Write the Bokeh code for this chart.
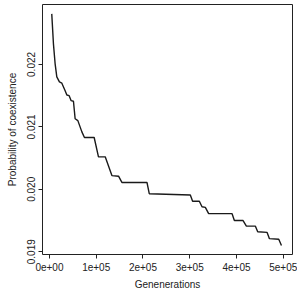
from bokeh.plotting import figure
from bokeh.models import Range1d, FixedTicker
from bokeh.embed import file_html
from bokeh.resources import INLINE

generations = [5000, 8600, 12200, 15800, 21400, 26600, 33600, 37300, 42200, 46500,
               51400, 55000, 60800, 69400, 74900, 95700, 104900, 119300, 133600, 147800,
               155000, 208600, 213500, 301300, 306200, 320600, 326300, 333400, 340500, 390600,
               395500, 414100, 421200, 440500, 445400, 465500, 470500, 490400, 496200]
probability = [0.02281, 0.02233, 0.02201, 0.02180, 0.02172, 0.02170, 0.02158, 0.02151, 0.02150, 0.02142,
               0.02141, 0.02113, 0.02110, 0.02092, 0.02083, 0.02083, 0.02052, 0.02052, 0.02022, 0.02021,
               0.02011, 0.02011, 0.01993, 0.01991, 0.01981, 0.01981, 0.01972, 0.01971, 0.01961, 0.01961,
               0.01950, 0.01950, 0.01941, 0.01941, 0.01932, 0.01931, 0.01921, 0.01920, 0.01910]

x_ticks = [0, 100000, 200000, 300000, 400000, 500000]
x_tick_labels = ["0e+00", "1e+05", "2e+05", "3e+05", "4e+05", "5e+05"]
y_ticks = [0.019, 0.020, 0.021, 0.022]
y_tick_labels = ["0.019", "0.020", "0.021", "0.022"]

FONT = "Liberation Sans"

p = figure(width=297, height=297, output_backend="svg", toolbar_location=None,
           x_range=Range1d(-14800, 519800), y_range=Range1d(0.018956, 0.02296),
           min_border_left=42, min_border_right=5, min_border_top=4, min_border_bottom=43)

p.line(generations, probability, line_color="#1a1a1a", line_width=1.4)

p.xgrid.visible = False
p.ygrid.visible = False
p.outline_line_color = "#222222"
p.outline_line_width = 1
p.background_fill_color = "white"
p.border_fill_color = "white"

for ax in (p.xaxis[0], p.yaxis[0]):
    ax.axis_line_color = None
    ax.major_tick_line_color = "#222222"
    ax.major_tick_out = 4
    ax.major_tick_in = 0
    ax.minor_tick_line_color = None
    ax.major_label_text_font = FONT
    ax.major_label_text_font_size = "10px"
    ax.major_label_text_color = "#222222"
    ax.major_label_text_line_height = 1.0
    ax.axis_label_text_font = FONT
    ax.axis_label_text_font_size = "10px"
    ax.axis_label_text_font_style = "normal"
    ax.axis_label_text_color = "#222222"
    ax.axis_label_text_line_height = 1.0

p.xaxis[0].ticker = FixedTicker(ticks=x_ticks)
p.xaxis[0].major_label_overrides = dict(zip(x_ticks, x_tick_labels))
p.xaxis[0].axis_label = "Genenerations"
p.xaxis[0].major_label_standoff = 4
p.xaxis[0].axis_label_standoff = 5

p.yaxis[0].ticker = FixedTicker(ticks=y_ticks)
p.yaxis[0].major_label_overrides = dict(zip(y_ticks, y_tick_labels))
p.yaxis[0].major_label_orientation = "parallel"
p.yaxis[0].axis_label = "Probability of coexistence"
p.yaxis[0].major_label_standoff = 3
p.yaxis[0].axis_label_standoff = 7

open("out.html", "w").write(file_html(p, INLINE))
